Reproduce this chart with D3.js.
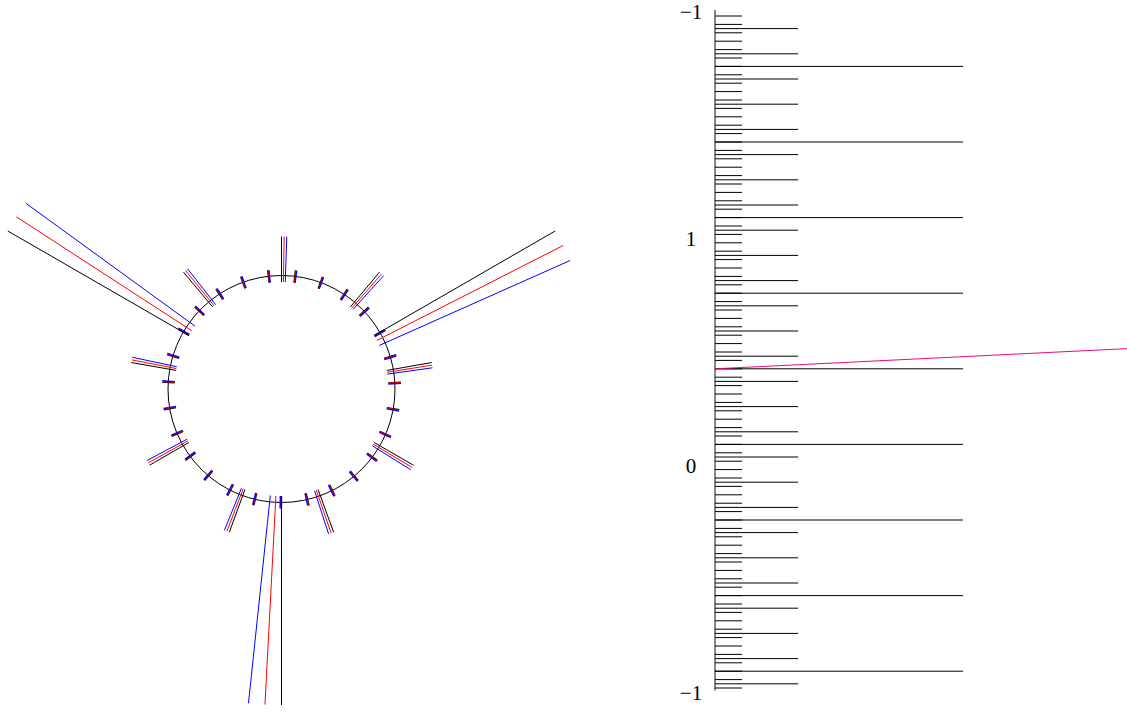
<!DOCTYPE html>
<html>
<head>
<meta charset="utf-8">
<script src="https://cdn.jsdelivr.net/npm/d3@7"></script>
<style>
  body { margin: 0; background: #fff; }
  text { font-family: "Liberation Serif", "DejaVu Serif", serif; }
</style>
</head>
<body>
<div id="chart"></div>
<script>
// angles on the circle, degrees counter-clockwise from east
var smallAngles = [3.33, 16.67, 30, 43.33, 56.67, 70, 83.33, 96.67, 110,
    123.33, 136.67, 150, 163.33, 176.67, 190, 203.33, 216.67, 230,
    243.33, 256.67, 270, 283.33, 296.67, 310, 323.33, 336.67, 350];
var groupAngles = [10, 50, 90, 130, 170, 210, 250, 290, 330];
var longAngles = [30, 150, 270];

// the three copies of every mark and how far each one is turned (in steps)
var copyColors = ['#000000', '#ff0000', '#0000ff'];
var copySteps = [0, 1, 2];

// right strip, positions counted in cells (0 at the top, 81 at the bottom)
var shortTicks = [0.5, 1.5, 2.5, 3.5, 4.5, 5.5, 6.5, 7.5, 8.5, 9.5, 10.5, 11.5,
    12.5, 13.5, 14.5, 15.5, 16.5, 17.5, 18.5, 19.5, 20.5, 21.5, 22.5, 23.5,
    24.5, 25.5, 26.5, 27.5, 28.5, 29.5, 30.5, 31.5, 32.5, 33.5, 34.5, 35.5,
    36.5, 37.5, 38.5, 39.5, 40.5, 41.5, 42.5, 43.5, 44.5, 45.5, 46.5, 47.5,
    48.5, 49.5, 50.5, 51.5, 52.5, 53.5, 54.5, 55.5, 56.5, 57.5, 58.5, 59.5,
    60.5, 61.5, 62.5, 63.5, 64.5, 65.5, 66.5, 67.5, 68.5, 69.5, 70.5, 71.5,
    72.5, 73.5, 74.5, 75.5, 76.5, 77.5, 78.5, 79.5, 80.5];
var mediumTicks = [2, 5, 8, 11, 14, 17, 20, 23, 26, 29, 32, 35, 38, 41, 44,
    47, 50, 53, 56, 59, 62, 65, 68, 71, 74, 77, 80];
var longTicks = [6.5, 15.5, 24.5, 33.5, 42.5, 51.5, 60.5, 69.5, 78.5];
var labelValues = [0, 27, 54, 81];
var labelTexts = ['\u22121', '1', '0', '\u22121'];
var pinkLine = [42.5, 40.1];   // cell position at the left and right ends

var width = 1127, height = 713;

var svg = d3.select('#chart').append('svg')
    .attr('width', width)
    .attr('height', height);

// ---- circle part ----
var cx = 281.5, cy = 389, radius = 113.5;
var r0 = 107;

var angle = d3.scaleLinear()
    .domain([0, 360])
    .range([Math.PI / 2, Math.PI / 2 - 2 * Math.PI]);

var wheel = svg.append('g')
    .attr('transform', 'translate(' + cx + ',' + cy + ')');

wheel.append('circle')
    .attr('r', radius)
    .attr('fill', 'none')
    .attr('stroke', '#000')
    .attr('stroke-width', 1);

var levels = [
    { angles: smallAngles, outer: 119.5, step: 1 / 3, w: 1.3 },
    { angles: groupAngles, outer: 152.5, step: 1, w: 1 },
    { angles: longAngles, outer: 316, step: 3, w: 1 }
];

levels.forEach(function (lv) {
    copySteps.forEach(function (s, ci) {
        wheel.append('g')
            .attr('stroke', copyColors[ci])
            .attr('stroke-width', lv.w)
            .selectAll('line')
            .data(lv.angles)
            .enter().append('line')
            .attr('x1', function (d) { return d3.pointRadial(angle(d - s * lv.step), r0)[0]; })
            .attr('y1', function (d) { return d3.pointRadial(angle(d - s * lv.step), r0)[1]; })
            .attr('x2', function (d) { return d3.pointRadial(angle(d - s * lv.step), lv.outer)[0]; })
            .attr('y2', function (d) { return d3.pointRadial(angle(d - s * lv.step), lv.outer)[1]; });
    });
});

// ---- right strip ----
var y = d3.scaleLinear()
    .domain([0, 81])
    .range([11.8, 692.2]);
var x0 = 715;

var strip = svg.append('g');

strip.append('line')
    .attr('x1', x0).attr('x2', x0)
    .attr('y1', y(-0.2)).attr('y2', y(80.8))
    .attr('stroke', '#444')
    .attr('stroke-width', 1.3);

function drawTicks(vals, len) {
    strip.append('g')
        .attr('stroke', '#000')
        .attr('stroke-width', 1)
        .selectAll('line')
        .data(vals)
        .enter().append('line')
        .attr('x1', x0)
        .attr('x2', x0 + len)
        .attr('y1', function (d) { return y(d); })
        .attr('y2', function (d) { return y(d); });
}
drawTicks(shortTicks, 27);
drawTicks(mediumTicks, 83);
drawTicks(longTicks, 248);

strip.append('line')
    .attr('x1', x0).attr('x2', width)
    .attr('y1', y(pinkLine[0]))
    .attr('y2', y(pinkLine[1]))
    .attr('stroke', '#e6097f')
    .attr('stroke-width', 1);

strip.selectAll('text.lab')
    .data(labelValues)
    .enter().append('text')
    .attr('class', 'lab')
    .attr('x', 691)
    .attr('y', function (d) { return y(d); })
    .attr('dy', '0.35em')
    .attr('text-anchor', 'middle')
    .attr('font-size', 21)
    .text(function (d, i) { return labelTexts[i]; });
</script>
</body>
</html>
